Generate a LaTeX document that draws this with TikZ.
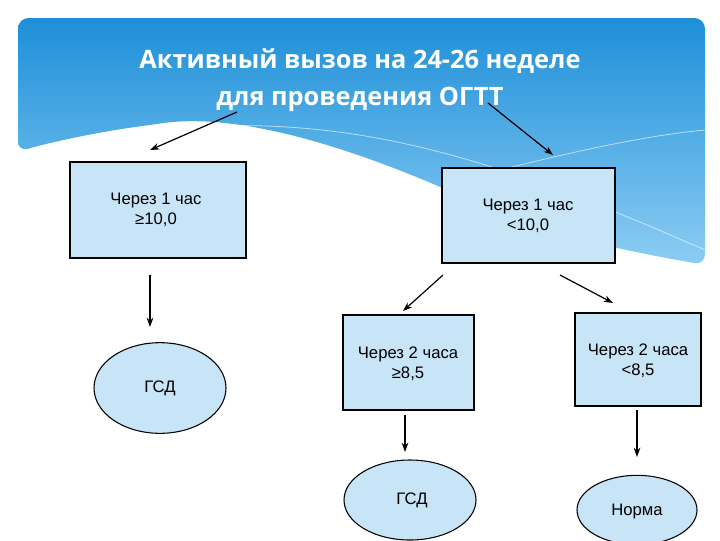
\documentclass[tikz,border=0pt]{standalone}
\usepackage{fontspec}
\setmainfont{Liberation Sans}
\newfontfamily\titlefont{Open Sans}
\usetikzlibrary{shapes.geometric,arrows.meta}
\definecolor{boxfill}{HTML}{C8E4F7}
\definecolor{skyA}{HTML}{1E8FD8}
\definecolor{skyB}{HTML}{8CCDF3}
\begin{document}
\begin{tikzpicture}[x=0.75pt,y=-0.75pt,
  oval/.style={ellipse,draw=black,fill=boxfill,line width=0.8pt,inner sep=0pt},
  arr/.style={-{Stealth[length=7pt,width=5pt]},line width=0.9pt},
  lbl/.style={font=\fontsize{12.5pt}{15pt}\selectfont,align=center}]
\useasboundingbox (0,0) rectangle (720,540);
\fill[white] (0,0) rectangle (720,540);
% header
\shade[top color=skyA,bottom color=skyB,rounded corners=8pt]
  (18,18) -- (705,18) -- (705,265) .. controls (650,255) and (560,240) .. (470,200)
  .. controls (380,160) and (250,110) .. (150,125) .. controls (90,133) and (40,145) .. (18,152) -- cycle;
\draw[white,opacity=0.6,line width=0.6pt] (160,130) .. controls (350,110) and (500,160) .. (705,250);
\draw[white,opacity=0.6,line width=0.6pt] (500,170) .. controls (580,150) and (650,135) .. (705,130);
\node[text=white,font=\titlefont\bfseries\fontsize{19pt}{28pt}\selectfont,align=center] (title) at (360,80)
  {Активный вызов на 24-26 неделе\\для проведения ОГТТ};
% boxes
\draw[fill=boxfill,line width=0.8pt] (70,162) rectangle (246,258);
\node[lbl] (b1) at (156,210) {Через 1 час\\ ≥10,0};
\draw[fill=boxfill,line width=0.8pt] (442,168) rectangle (615,263);
\node[lbl] (b2) at (528,216) {Через 1 час\\ <10,0};
\draw[fill=boxfill,line width=0.8pt] (343,315) rectangle (474,410);
\node[lbl] (b3) at (408,364) {Через 2 часа\\ ≥8,5};
\draw[fill=boxfill,line width=0.8pt] (575,313) rectangle (701,406);
\node[lbl] (b4) at (638,361) {Через 2 часа\\ <8,5};
% ellipses
\node[oval,minimum width=99pt,minimum height=68pt] (e1) at (160,388) {};
\node[lbl] at (160,388) {ГСД};
\node[oval,minimum width=99pt,minimum height=60pt] (e2) at (410,500) {};
\node[lbl] at (412,500) {ГСД};
\node[oval,minimum width=90pt,minimum height=52pt] (e3) at (637,510) {};
\node[lbl] at (637,511) {Норма};
% arrows
\coordinate (t1) at (237,112); \coordinate (h1) at (150,150);
\coordinate (t2) at (488,103); \coordinate (h2) at (553,155);
\draw[arr] (t1) -- (h1);
\draw[arr] (t2) -- (h2);
\draw[arr] (150,275) -- (150,327);
\draw[arr] (443,275) -- (403,311);
\draw[arr] (560,275) -- (613,303);
\draw[arr] (405,415) -- (405,452);
\draw[arr] (637,410) -- (637,457);
\end{tikzpicture}
\end{document}
